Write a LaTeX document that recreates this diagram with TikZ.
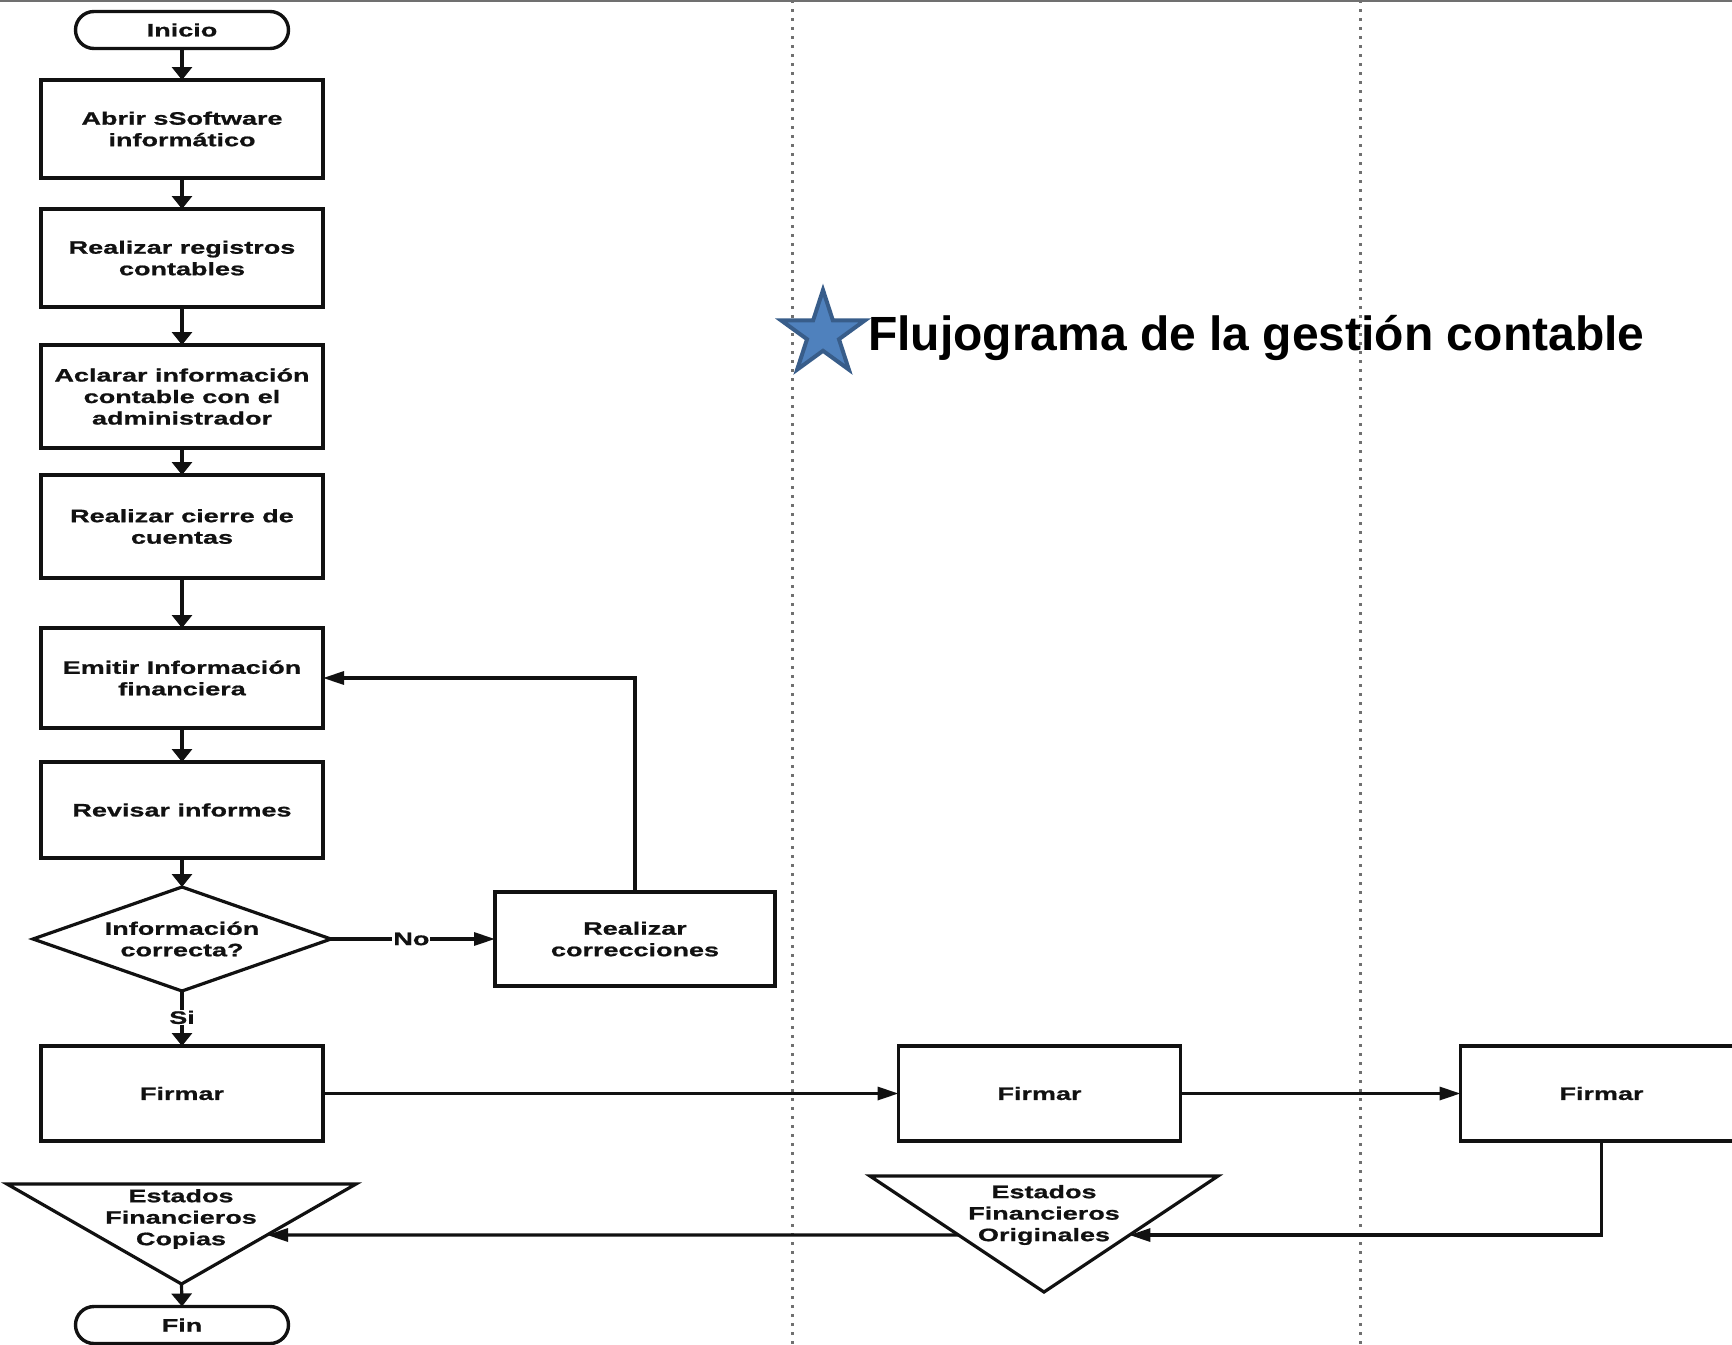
\documentclass[tikz,border=0pt]{standalone}
\usepackage{fontspec}
\setmainfont{Liberation Sans}
\newfontfamily\boxfont[FakeStretch=1.5,FakeBold=1]{Liberation Sans}
\newfontfamily\titlefont{Liberation Sans}
\usetikzlibrary{arrows.meta,calc}
\definecolor{ink}{HTML}{111111}
\definecolor{lanegray}{HTML}{707070}
\definecolor{starblue}{HTML}{4F81BD}
\definecolor{staredge}{HTML}{385D8A}
\begin{document}
\begin{tikzpicture}[x=1pt,y=-1pt,
  txt/.style={font=\boxfont\bfseries\fontsize{18}{21.5}\selectfont, align=center, text=ink},
  proc/.style={txt, draw=ink, line width=3.4pt, rectangle, minimum width=282pt, inner sep=0pt, outer sep=0pt},
  term/.style={txt, draw=ink, line width=3.4pt, rectangle, rounded corners=18.5pt, minimum width=213pt, minimum height=37pt, inner sep=0pt, outer sep=0pt},
  shapebox/.style={rectangle, inner sep=0pt, outer sep=0pt},
  outline/.style={draw=ink, line width=3.2pt, line join=miter},
  conn/.style={draw=ink, line width=3.2pt},
  vflow/.style={conn, -{Triangle[length=13pt,width=20pt]}},
  hflow/.style={conn, -{Triangle[length=21pt,width=13pt]}},
  tag/.style={txt, fill=white, inner sep=1pt},
  lane/.style={draw=lanegray, line width=3pt, dash pattern=on 3pt off 6pt},
]
\useasboundingbox (0,0) rectangle (1732,1344);

% frame line and swimlane separators
\draw[draw=lanegray, line width=2pt] (0,1) -- (1732,1);
\draw[lane] (792,0) -- (792,1344);
\draw[lane] (1360,0) -- (1360,1344);

% title with star
\coordinate (starc) at (823,334);
\draw[fill=starblue, draw=staredge, line width=4pt, line join=miter]
  (starc) +(90:44pt) -- +(126:16.8pt) -- +(162:44pt) -- +(198:16.8pt)
  -- +(234:44pt) -- +(270:16.8pt) -- +(306:44pt) -- +(342:16.8pt)
  -- +(18:44pt) -- +(54:16.8pt) -- cycle;
\node[anchor=base west, inner sep=0pt, font=\titlefont\bfseries\fontsize{48}{56}\selectfont, text=black]
  (title) at (868,350) {Flujograma de la gestión contable};

% main column
\node[term] (inicio) at (182,30) {Inicio};
\node[proc, minimum height=98pt] (abrir) at (182,129) {Abrir sSoftware\\informático};
\node[proc, minimum height=98pt] (registros) at (182,258) {Realizar registros\\contables};
\node[proc, minimum height=103pt] (aclarar) at (182,396.5) {Aclarar información\\contable con el\\administrador};
\node[proc, minimum height=103pt] (cierre) at (182,526.5) {Realizar cierre de\\cuentas};
\node[proc, minimum height=100pt] (emitir) at (182,678) {Emitir Información\\financiera};
\node[proc, minimum height=96pt] (revisar) at (182,810) {Revisar informes};

% decision (diamond drawn through the box anchors)
\node[shapebox, txt, minimum width=298pt, minimum height=104pt] (correcta) at (182,939) {Información\\correcta?};
\draw[outline] (correcta.north) -- (correcta.east) -- (correcta.south) -- (correcta.west) -- cycle;

\node[proc, minimum width=280pt, minimum height=94pt] (correc) at (635,939) {Realizar\\correcciones};
\node[proc, minimum height=95pt] (firmarA) at (182,1093.5) {Firmar};
\node[proc, minimum height=95pt] (firmarB) at (1039.5,1093.5) {Firmar};
\node[proc, minimum height=95pt] (firmarC) at (1601.5,1093.5) {Firmar};

% merge triangles (bounding boxes, outlines and labels)
\node[shapebox, minimum width=349pt, minimum height=100pt] (copias) at (181.5,1234) {};
\node[shapebox, minimum width=348pt, minimum height=116pt] (originales) at (1044,1234) {};
\draw[outline] (copias.north west) -- (copias.north east) -- (copias.south) -- cycle;
\draw[outline] (originales.north west) -- (originales.north east) -- (originales.south) -- cycle;
\node[txt] (copiasTxt) at (181,1219) {Estados\\Financieros\\Copias};
\node[txt] (originalesTxt) at (1044,1215) {Estados\\Financieros\\Originales};
\coordinate (copiasR) at ($(copias.north east)!0.51!(copias.south)$);
\coordinate (originalesR) at ($(originales.north east)!0.509!(originales.south)$);
\coordinate (originalesL) at ($(originales.north west)!0.509!(originales.south)$);

\node[term] (fin) at (182,1325) {Fin};

% connectors
\draw[vflow] (inicio) -- (abrir);
\draw[vflow] (abrir) -- (registros);
\draw[vflow] (registros) -- (aclarar);
\draw[vflow] (aclarar) -- (cierre);
\draw[vflow] (cierre) -- (emitir);
\draw[vflow] (emitir) -- (revisar);
\draw[vflow] (revisar) -- (correcta.north);
\draw[vflow] (correcta.south) -- node[tag, pos=0.48] {Si} (firmarA.north);
\draw[hflow] (correcta.east) -- node[tag, pos=0.49] {No} (correc.west);
\draw[hflow] (correc.north) |- (emitir.east);
\draw[hflow] (firmarA) -- (firmarB);
\draw[hflow] (firmarB) -- (firmarC);
\draw[hflow] (firmarC.south) |- (originalesR);
\draw[hflow] (originalesL) -- (copiasR);
\draw[vflow] (copias.south) -- (fin.north);
\end{tikzpicture}
\end{document}
